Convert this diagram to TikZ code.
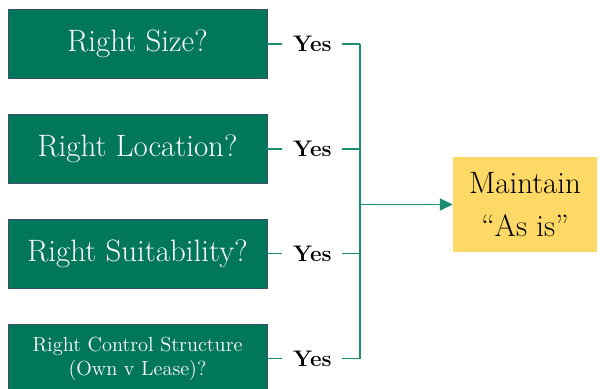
\documentclass[tikz,border=0pt]{standalone}
\usepackage{tikz}
\usetikzlibrary{positioning, arrows.meta}

\definecolor{boxgreen}{RGB}{0,118,90}
\definecolor{boxedge}{RGB}{60,78,104}
\definecolor{linkgreen}{RGB}{30,140,112}
\definecolor{goalyellow}{RGB}{255,217,102}

\tikzset{
    question/.style={draw=boxedge, line width=0.6pt, fill=boxgreen, text=white,
        minimum width=6.475cm, minimum height=1.725cm, align=center,
        inner sep=0pt, font=\fontsize{22}{26}\selectfont},
    answer/.style={inner xsep=0.26cm, inner ysep=0pt, font=\fontsize{16}{19}\selectfont\bfseries},
    link/.style={linkgreen, line width=1.1pt},
    goal/.style={fill=goalyellow, minimum width=3.6cm, minimum height=2.375cm,
        align=center, font=\fontsize{22}{31}\selectfont}
}

\begin{document}
\begin{tikzpicture}
    \useasboundingbox (0,0) rectangle (15,-9.725);

    % Questions
    \node [question] (q1) at (3.4375,-1.1) {Right Size?};
    \node [question, below=0.875cm of q1] (q2) {Right Location?};
    \node [question, below=0.875cm of q2] (q3) {Right Suitability?};
    \node [question, below=0.875cm of q3, font=\fontsize{14.5}{17}\selectfont] (q4)
        {Right Control Structure\\(Own v Lease)?};

    % Answers
    \foreach \i in {1,...,4} {
        \node [answer, right=0.375cm of q\i] (a\i) {Yes};
        \draw [link] (q\i.east) -- (a\i.west);
    }

    % Outcome
    \node [goal] (keep) at (13.125,-5.1125) {Maintain\\“As is”};

    % Bus joining the answers
    \coordinate (bus) at (9,0);
    \foreach \i in {1,...,4} {
        \draw [link] (a\i.east) -- (a\i.east -| bus);
    }
    \draw [link] (a1.east -| bus) -- (a4.east -| bus);
    \draw [link, -{Triangle[length=3.2mm, width=3mm]}] (keep.west -| bus) -- (keep.west);
\end{tikzpicture}
\end{document}
